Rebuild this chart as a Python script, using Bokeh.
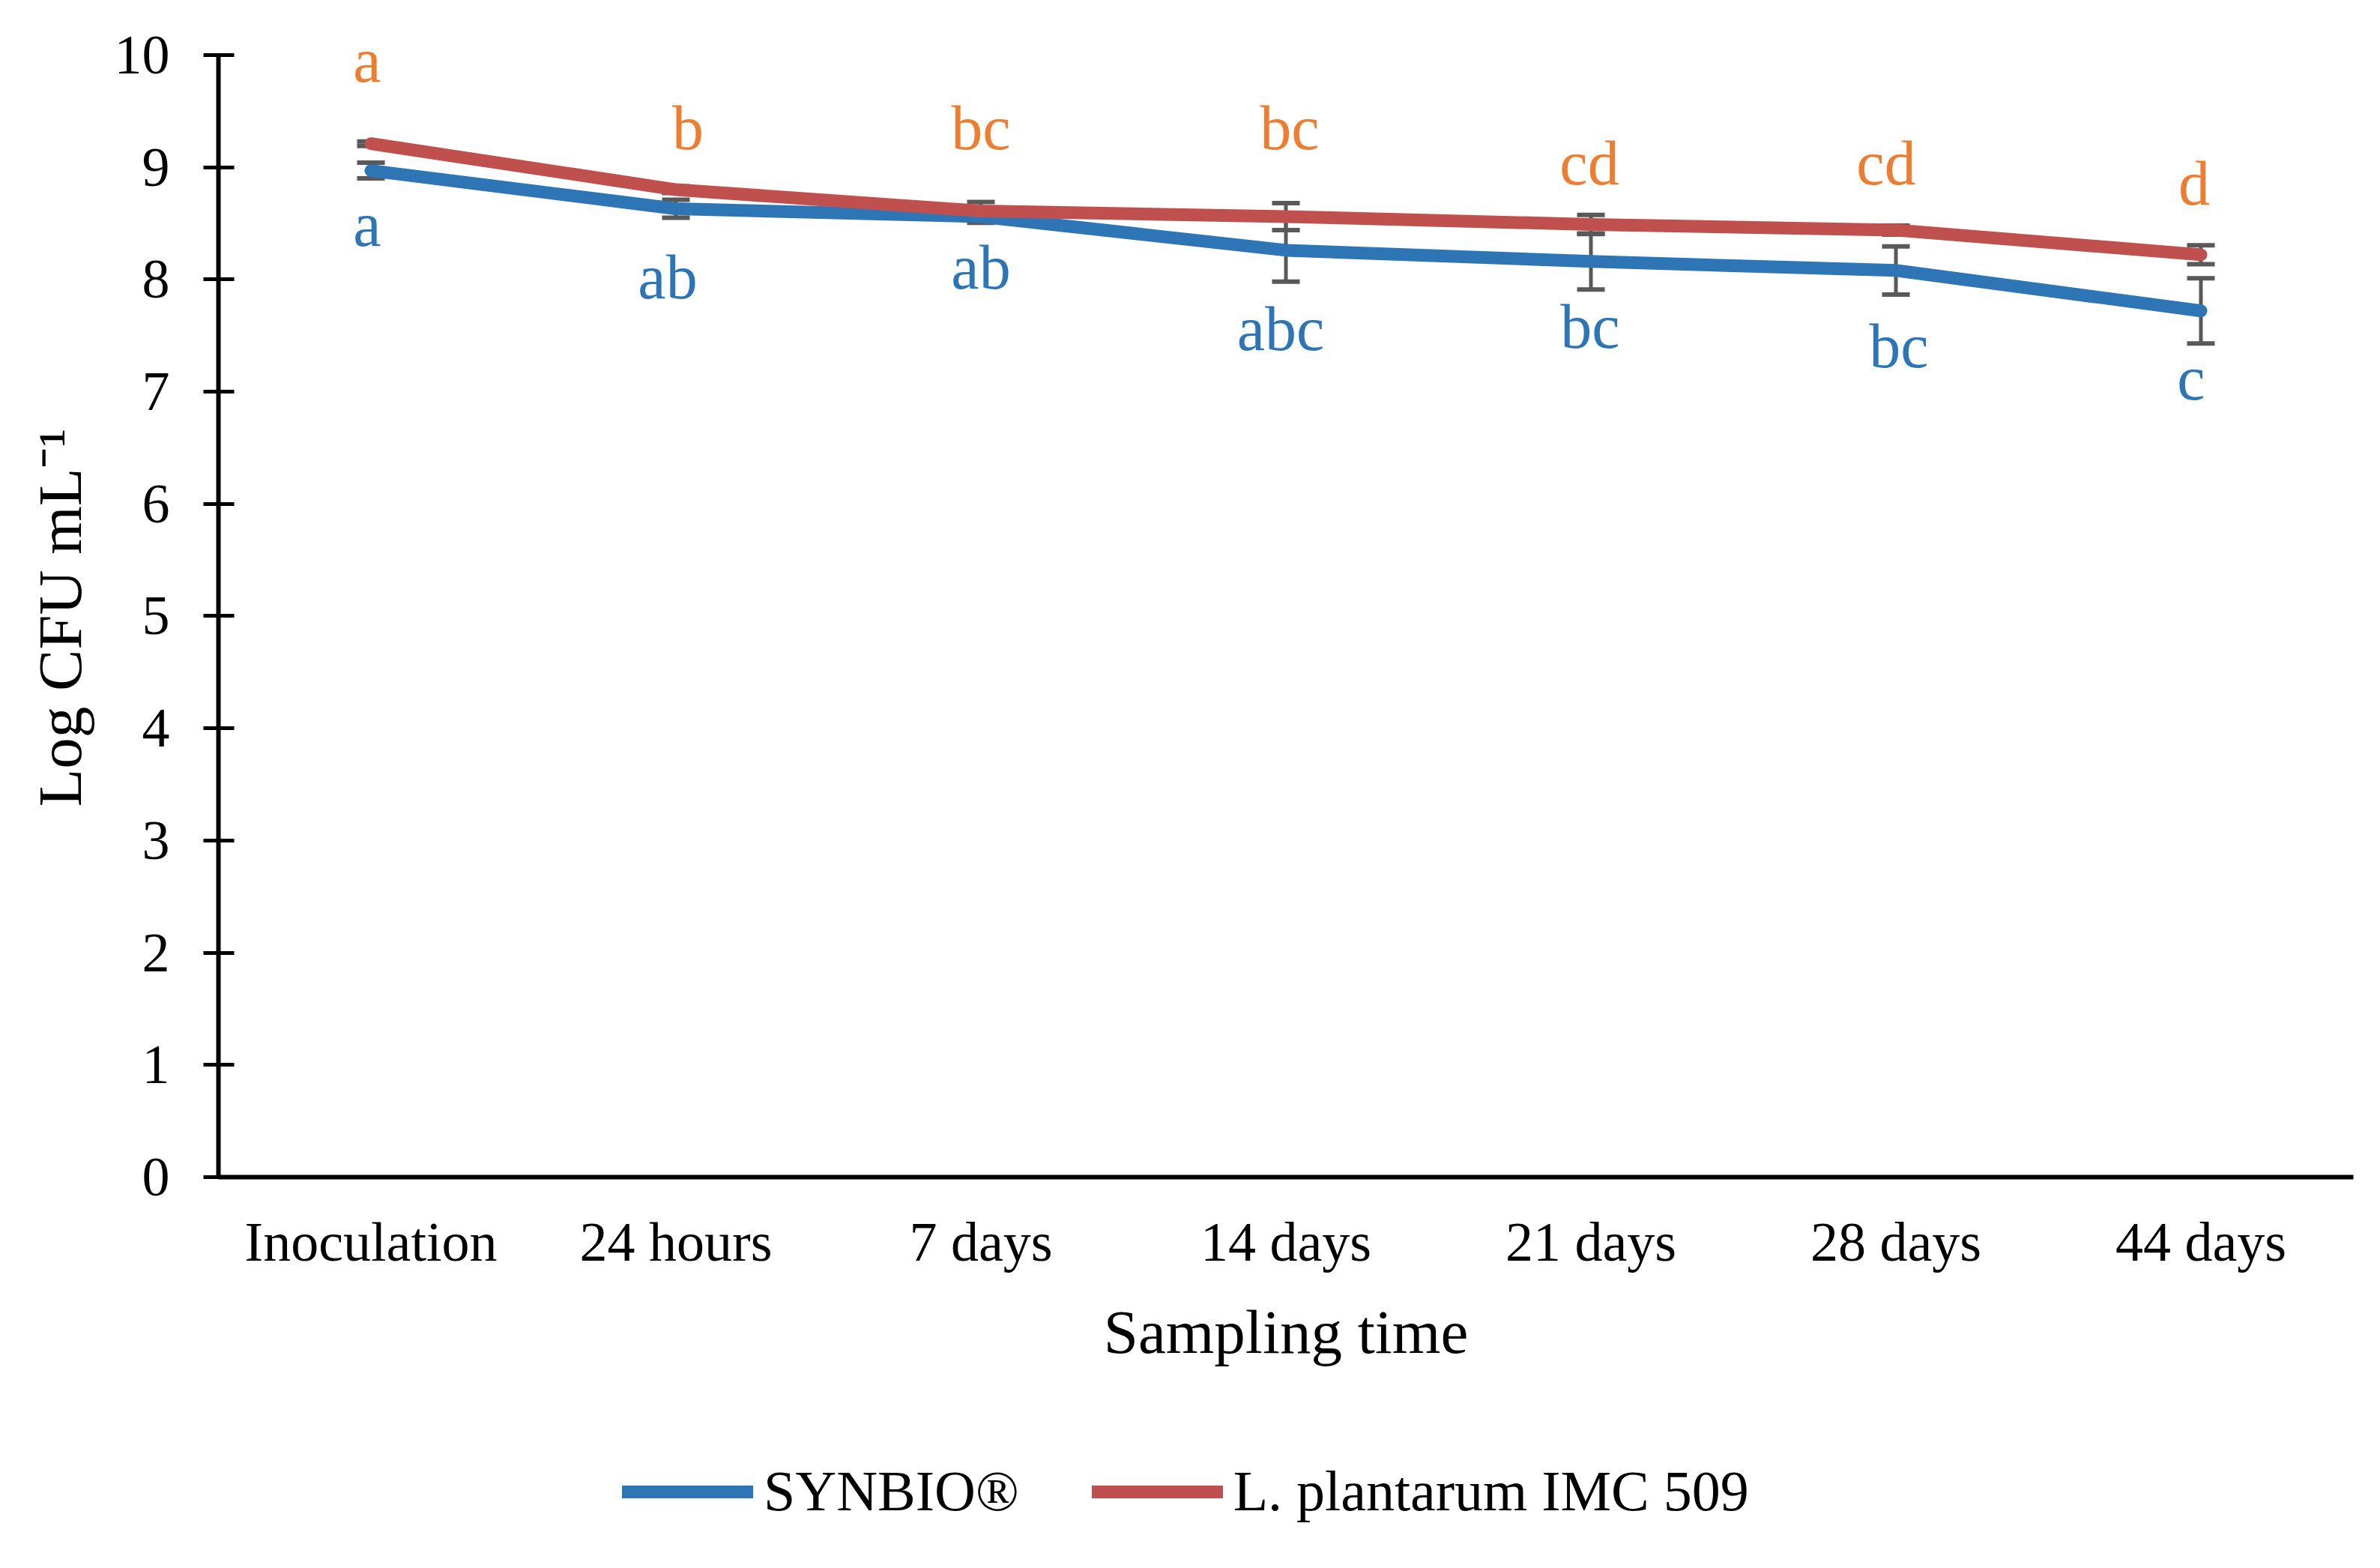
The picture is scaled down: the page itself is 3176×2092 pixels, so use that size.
from bokeh.plotting import figure
from bokeh.layouts import column
from bokeh.models import (ColumnDataSource, FactorRange, Range1d, Whisker, TeeHead,
                          Legend, LegendItem, FixedTicker, Title)
from bokeh.core.properties import value
from bokeh.embed import file_html
from bokeh.resources import INLINE

# ---------------- data ----------------
categories = ["Inoculation", "24 hours", "7 days", "14 days", "21 days", "28 days", "44 days"]
synbio = [8.97, 8.63, 8.56, 8.26, 8.16, 8.08, 7.72]
synbio_err = [0.07, 0.08, 0.055, 0.28, 0.25, 0.215, 0.29]
imc509 = [9.21, 8.80, 8.61, 8.56, 8.49, 8.44, 8.22]
imc509_err = [0.02, 0.03, 0.08, 0.12, 0.085, 0.04, 0.085]
synbio_letters = ["a", "ab", "ab", "abc", "bc", "bc", "c"]
imc509_letters = ["a", "b", "bc", "bc", "cd", "cd", "d"]
# label anchor heights (data units) and small horizontal nudges
synbio_label_y = [8.31, 7.84, 7.93, 7.38, 7.40, 7.23, 6.94]
imc509_label_y = [9.77, 9.17, 9.17, 9.17, 8.86, 8.86, 8.68]
synbio_label_dx = [-5, -11, 0, -7, -1, 4, -13]
imc509_label_dx = [-5, 16, 0, 5, -2, -13, -9]
y_ticks = [0, 1, 2, 3, 4, 5, 6, 7, 8, 9, 10]
series_names = ["SYNBIO\u00ae", "L. plantarum IMC 509"]
x_title = "Sampling time"
y_title = "Log CFU mL\u207b\u00b9"

BLUE = "#2E75B6"
RED = "#C0504D"
ORANGE = "#ED7D31"
GREY = "#595959"
FONT = "Liberation Serif"

src_s = ColumnDataSource(dict(
    x=categories, y=synbio,
    upper=[v + e for v, e in zip(synbio, synbio_err)],
    lower=[v - e for v, e in zip(synbio, synbio_err)],
    ly=synbio_label_y, txt=synbio_letters, dx=synbio_label_dx))
src_r = ColumnDataSource(dict(
    x=categories, y=imc509,
    upper=[v + e for v, e in zip(imc509, imc509_err)],
    lower=[v - e for v, e in zip(imc509, imc509_err)],
    ly=imc509_label_y, txt=imc509_letters, dx=imc509_label_dx))

W = 3160
H_MAIN = 1880
H_LEG = 196
Y_TOP = 10.4   # head-room above the last tick so the top letters are not clipped
p = figure(width=W, height=H_MAIN,
           x_range=FactorRange(*categories, range_padding=0),
           y_range=Range1d(0, Y_TOP),
           output_backend="svg", toolbar_location=None,
           min_border_left=291, min_border_right=W - 3140,
           min_border_top=13, min_border_bottom=H_MAIN - 1570)
p.outline_line_color = None
p.background_fill_color = "white"
p.border_fill_color = "white"
p.xgrid.visible = False
p.ygrid.visible = False

# error bars
for src in (src_s, src_r):
    w = Whisker(base="x", upper="upper", lower="lower", source=src,
                line_color=GREY, line_width=5,
                upper_head=TeeHead(size=37, line_color=GREY, line_width=6),
                lower_head=TeeHead(size=37, line_color=GREY, line_width=6))
    p.add_layout(w)

p.line("x", "y", source=src_s, line_color=BLUE, line_width=17, line_cap="round", line_join="round")
p.line("x", "y", source=src_r, line_color=RED, line_width=17, line_cap="round", line_join="round")

p.text("x", "ly", text="txt", source=src_s, x_offset="dx", y_offset=-27, text_align="center",
       text_baseline="alphabetic", text_font=value(FONT), text_font_size="84px", text_color=BLUE)
p.text("x", "ly", text="txt", source=src_r, x_offset="dx", y_offset=-27, text_align="center",
       text_baseline="alphabetic", text_font=value(FONT), text_font_size="84px", text_color=ORANGE)

# axes
xa = p.xaxis[0]
xa.axis_label = x_title
xa.axis_line_width = 6
xa.axis_line_color = "black"
xa.major_tick_out = 0
xa.major_tick_in = 0
xa.minor_tick_out = 0
xa.major_label_standoff = 45
xa.major_label_text_font = FONT
xa.major_label_text_font_size = "74px"
xa.major_label_text_color = "black"
xa.axis_label_text_font = FONT
xa.axis_label_text_font_size = "83px"
xa.axis_label_text_font_style = "normal"
xa.axis_label_text_color = "black"
xa.axis_label_standoff = 30

ya = p.yaxis[0]
ya.ticker = FixedTicker(ticks=y_ticks)
ya.bounds = (y_ticks[0], y_ticks[-1])
ya.axis_line_width = 6
ya.axis_line_color = "black"
ya.major_tick_line_width = 5
ya.major_tick_line_color = "black"
ya.major_tick_out = 20
ya.major_tick_in = 21
ya.minor_tick_out = 0
ya.minor_tick_in = 0
ya.major_label_standoff = 45
ya.major_label_text_font = FONT
ya.major_label_text_font_size = "74px"
ya.major_label_text_color = "black"

# y-axis title as a side title so it can sit centred on the 0-10 span
yt = Title(text=y_title, align="left", offset=494, vertical_align="bottom", standoff=48,
           text_font=FONT, text_font_size="83px", text_font_style="normal", text_color="black")
p.add_layout(yt, "left")

# ---------------- legend strip ----------------
# same series drawn out of view; only their legend glyphs are seen
pl = figure(width=W, height=H_LEG, x_range=FactorRange(*categories, range_padding=0),
            y_range=Range1d(100, 101),
            output_backend="svg", toolbar_location=None,
            x_axis_location=None, y_axis_location=None, min_border=0)
pl.outline_line_color = None
pl.xgrid.visible = False
pl.ygrid.visible = False
d1 = pl.line("x", "y", source=src_s, line_color=BLUE, line_width=17, line_cap="round")
d2 = pl.line("x", "y", source=src_r, line_color=RED, line_width=17, line_cap="round")
legend = Legend(items=[LegendItem(label=series_names[0], renderers=[d1]),
                       LegendItem(label=series_names[1], renderers=[d2])],
                orientation="horizontal", location=(539, 43),
                glyph_width=175, glyph_height=40, label_standoff=14, spacing=97,
                padding=0, margin=0, border_line_color=None, background_fill_alpha=0,
                label_text_font=FONT, label_text_font_size="76px", label_text_color="black")
pl.add_layout(legend, "center")

layout = column(p, pl, spacing=0)
open("out.html", "w").write(file_html(layout, INLINE))
